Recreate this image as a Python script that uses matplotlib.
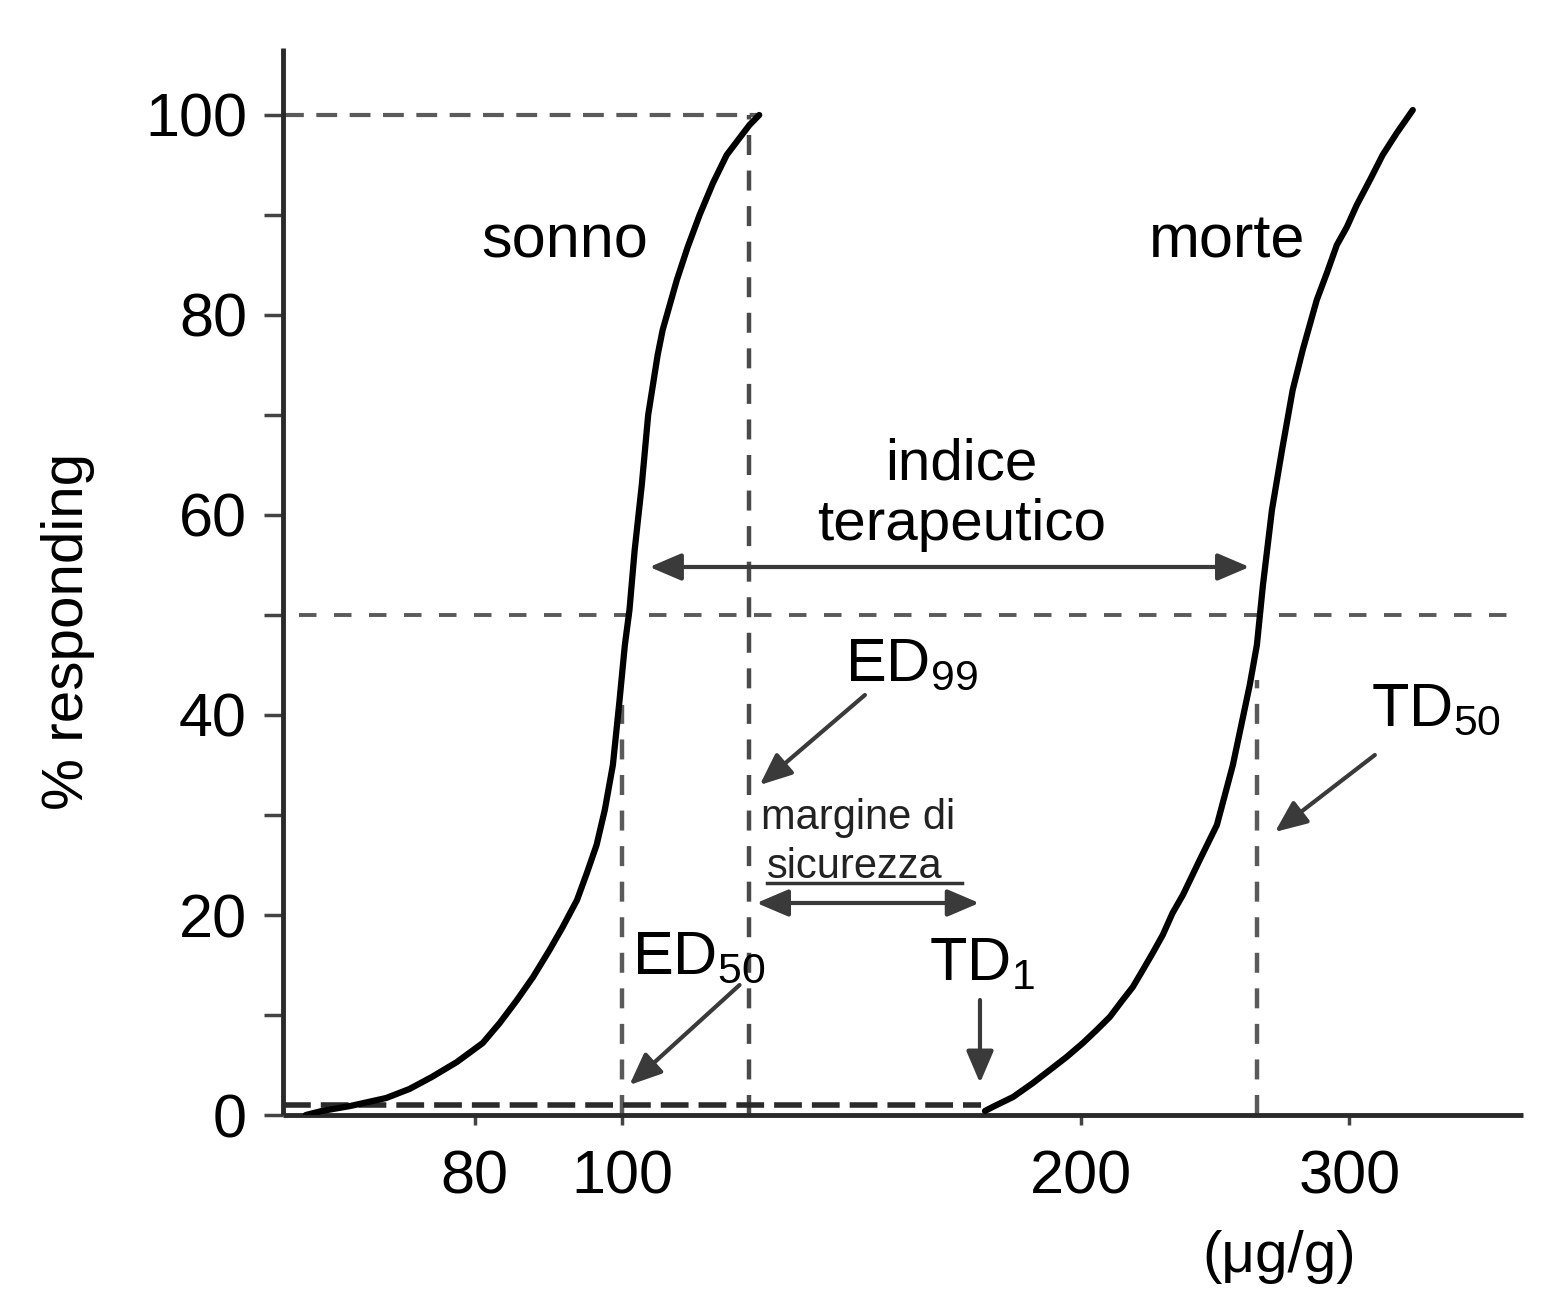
import matplotlib
matplotlib.use("Agg")
import matplotlib.pyplot as plt
from matplotlib.ticker import FixedLocator, FixedFormatter, NullLocator

plt.rcParams["font.family"] = ["Liberation Sans", "DejaVu Sans"]
plt.rcParams["mathtext.fontset"] = "custom"
plt.rcParams["mathtext.rm"] = "Liberation Sans"
plt.rcParams["mathtext.default"] = "regular"

# sonno (sleep) dose-response
sonno_dose = [62, 63.5, 66.3, 70, 72.5, 75, 77.9, 81, 83.1, 85.3, 87.4, 89.6, 91.4, 93.4,
              94.8, 96.2, 97.4, 98.6, 99.6, 100.4, 101.1, 101.9, 103, 104, 105.5, 106.3,
              108.6, 110.4, 112.4, 114.7, 117.1, 119.4, 121.2, 123]
sonno_pct = [0, 0.4, 0.9, 1.7, 2.6, 3.8, 5.3, 7.2, 9.2, 11.5, 13.8, 16.5, 18.8, 21.5,
             24.2, 27, 30.5, 35, 41.5, 47, 50.5, 56.5, 63, 70, 76, 78.5,
             83.5, 86.8, 90, 93.2, 96, 97.7, 99, 100]

# morte (death) dose-response
morte_dose = [173, 175, 180.5, 186, 190.8, 195.7, 200.6, 204.8, 208.9, 213, 216.3, 219.6,
              222.9, 226.3, 229.7, 233.3, 239.3, 245.6, 251.6, 258.1, 260.9, 263.3, 266.9,
              271, 275.4, 279.6, 285.6, 290, 294.4, 298.9, 303.4, 309.5, 315.5, 322.3, 330.2]
morte_pct = [0.4, 0.8, 1.8, 3.2, 4.5, 5.8, 7.2, 8.5, 9.8, 11.5, 12.8, 14.5,
             16.2, 18, 20.2, 22, 25.5, 29, 35, 43, 47, 53, 60.5,
             66.5, 72.5, 76.5, 81.5, 84.2, 87, 88.8, 91, 93.5, 96, 98.2, 100.5]

# reference doses
ed50 = 100
ed99 = 121.2
td1 = 172
td50 = 261

x_ticks = [80, 100, 200, 300]
x_tick_labels = ["80", "100", "200", "300"]
y_major = [0, 20, 40, 60, 80, 100]
y_minor = [10, 30, 50, 70, 90]

XMIN, XMAX = 59.9, 390
YMIN, YMAX = 0, 106.7

fig = plt.figure(figsize=(15.62, 13.11), dpi=100)
ax = fig.add_axes([0.1812, 0.1495, 0.975 - 0.1812, 0.9634 - 0.1495])
ax.set_xscale("log")
ax.set_xlim(XMIN, XMAX)
ax.set_ylim(YMIN, YMAX)

for s in ["top", "right"]:
    ax.spines[s].set_visible(False)
for s in ["left", "bottom"]:
    ax.spines[s].set_linewidth(3.5)
    ax.spines[s].set_color("#2a2a2a")
    ax.spines[s].set_capstyle("butt")

ax.xaxis.set_major_locator(FixedLocator(x_ticks))
ax.xaxis.set_major_formatter(FixedFormatter(x_tick_labels))
ax.xaxis.set_minor_locator(NullLocator())
ax.yaxis.set_major_locator(FixedLocator(y_major))
ax.yaxis.set_minor_locator(FixedLocator(y_minor))

ax.tick_params(axis="x", which="major", direction="out", length=7, width=2.5,
               color="#444444", labelsize=44, pad=18)
ax.tick_params(axis="y", which="both", direction="out", length=14, width=2.5,
               color="#444444", labelsize=44, pad=12)
ax.tick_params(axis="y", which="minor", labelleft=False)

ax.set_ylabel("% responding", fontsize=42)
ax.yaxis.set_label_coords(-0.152, 0.453)

# dashed guide lines
grey = "#5a5a5a"
ax.plot([XMIN, 123], [100, 100], color=grey, lw=3, ls=(0, (5, 3)), zorder=1)
ax.plot([ed99, ed99], [0, 100], color="#4a4a4a", lw=3.2, ls=(0, (4.5, 3.5)), zorder=1)
ax.plot([61.4, XMAX], [50, 50], color=grey, lw=2.8, ls=(0, (4.5, 4.5)), zorder=1)
ax.plot([ed50, ed50], [0, 41], color=grey, lw=3.2, ls=(0, (4.5, 3.5)), zorder=1)
ax.plot([td50, td50], [0, 43.5], color=grey, lw=3.2, ls=(0, (4.5, 3.5)), zorder=1)
ax.plot([XMIN, td1], [1, 1], color="#2a2a2a", lw=4, ls=(0, (5, 1.8)), zorder=1)

# curves
ax.plot(sonno_dose, sonno_pct, color="black", lw=4.5, solid_capstyle="round",
        solid_joinstyle="round", zorder=3)
ax.plot(morte_dose, morte_pct, color="black", lw=4.5, solid_capstyle="round",
        solid_joinstyle="round", zorder=3)

ax.text(91.7, 87.3, "sonno", fontsize=44, ha="center", va="center")
ax.text(249.6, 87.3, "morte", fontsize=44, ha="center", va="center")
ax.text(167, 62, "indice\nterapeutico", fontsize=42, ha="center", va="center",
        linespacing=1.15)

arrow_col = "#3a3a3a"
head = "-|>,head_length=0.75,head_width=0.32"
dhead = "<|-|>,head_length=0.75,head_width=0.32"

# indice terapeutico double arrow
ax.annotate("", xy=(258, 54.8), xytext=(104.2, 54.8),
            arrowprops=dict(arrowstyle=dhead, color=arrow_col, lw=3, mutation_scale=26,
                            shrinkA=0, shrinkB=0))

# ED99
ax.text(140, 45, "ED$_{99}$", fontsize=44, ha="left", va="center")
ax.annotate("", xy=(123.1, 33), xytext=(144.3, 42),
            arrowprops=dict(arrowstyle=head, color=arrow_col, lw=3, mutation_scale=26,
                            shrinkA=0, shrinkB=0))

# margine di sicurezza
ax.text(123.3, 29.7, "margine di", fontsize=30, ha="left", va="center", color="#222222")
ax.text(124.5, 24.8, "sicurezza", fontsize=30, ha="left", va="center", color="#222222")
ax.plot([124.5, 167], [23.2, 23.2], color="#333333", lw=2.5, zorder=2)
ax.annotate("", xy=(171.5, 21.2), xytext=(122.5, 21.2),
            arrowprops=dict(arrowstyle=dhead, color=arrow_col, lw=3, mutation_scale=26,
                            shrinkA=0, shrinkB=0))

# ED50
ax.text(101.5, 15.7, "ED$_{50}$", fontsize=44, ha="left", va="center")
ax.annotate("", xy=(101.1, 3), xytext=(119.4, 13),
            arrowprops=dict(arrowstyle=head, color=arrow_col, lw=3, mutation_scale=26,
                            shrinkA=0, shrinkB=0))

# TD1
ax.text(159, 15, "TD$_{1}$", fontsize=44, ha="left", va="center")
ax.annotate("", xy=(171.7, 3.2), xytext=(171.7, 11.5),
            arrowprops=dict(arrowstyle=head, color=arrow_col, lw=3, mutation_scale=26,
                            shrinkA=0, shrinkB=0))

# TD50
ax.text(310, 40.5, "TD$_{50}$", fontsize=44, ha="left", va="center")
ax.annotate("", xy=(268.1, 28.3), xytext=(311.8, 36),
            arrowprops=dict(arrowstyle=head, color=arrow_col, lw=3, mutation_scale=26,
                            shrinkA=0, shrinkB=0))

ax.text(270, -0.133, "(\u03bcg/g)", fontsize=42, ha="center", va="center",
        transform=ax.get_xaxis_transform())

fig.savefig("out.png", dpi=100)
